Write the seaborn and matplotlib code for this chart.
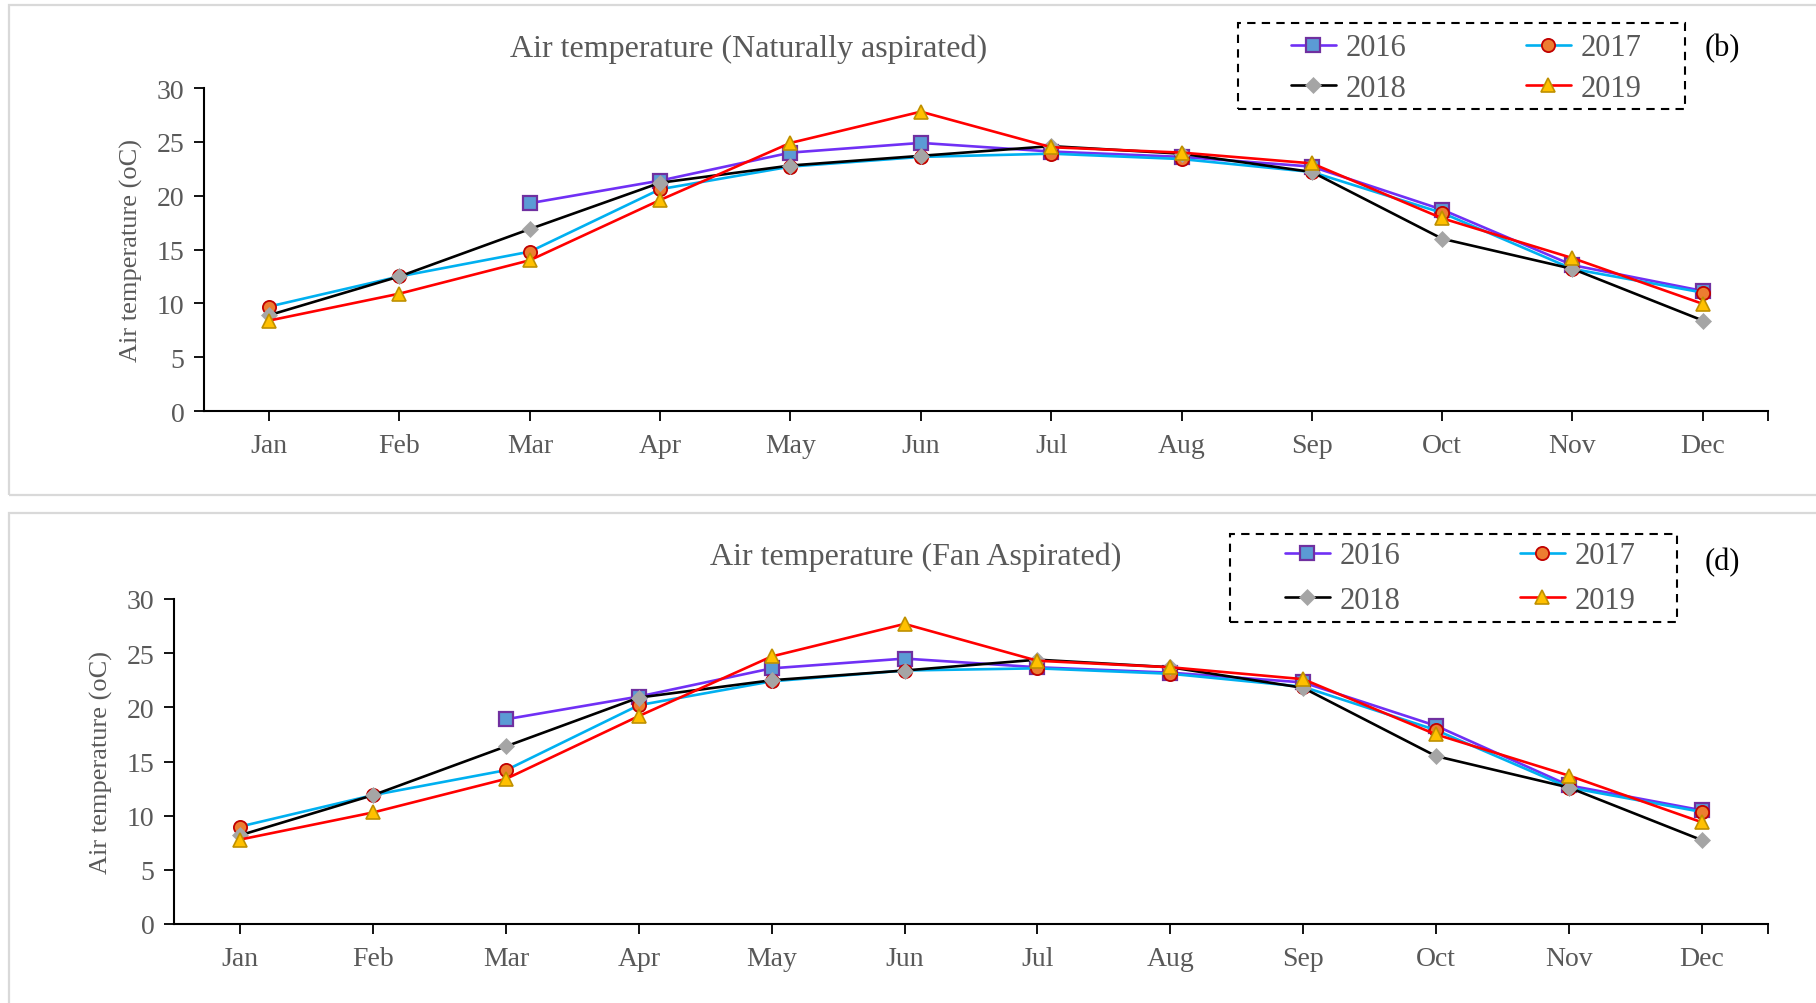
import numpy as np
import pandas as pd
import matplotlib
matplotlib.use("Agg")
import matplotlib.pyplot as plt
from matplotlib.patches import Rectangle
from matplotlib.lines import Line2D
import seaborn as sns

nan = np.nan

months = ["Jan", "Feb", "Mar", "Apr", "May", "Jun", "Jul", "Aug", "Sep", "Oct", "Nov", "Dec"]
years = ["2016", "2017", "2018", "2019"]

# Naturally aspirated air temperature (oC)
nat_2016 = [nan, nan, 19.3, 21.4, 24.0, 24.9, 24.1, 23.6, 22.7, 18.7, 13.55, 11.15]
nat_2017 = [9.7, 12.5, 14.8, 20.6, 22.7, 23.6, 23.9, 23.4, 22.2, 18.4, 13.2, 11.0]
nat_2018 = [8.9, 12.5, 16.9, 21.2, 22.8, 23.7, 24.6, 23.9, 22.2, 16.0, 13.2, 8.4]
nat_2019 = [8.4, 10.9, 14.0, 19.6, 24.9, 27.8, 24.5, 24.0, 23.0, 17.9, 14.2, 9.95]

# Fan aspirated air temperature (oC)
fan_2016 = [nan, nan, 18.9, 21.0, 23.6, 24.5, 23.7, 23.2, 22.3, 18.3, 12.8, 10.5]
fan_2017 = [9.0, 11.9, 14.2, 20.2, 22.4, 23.4, 23.6, 23.1, 21.9, 17.9, 12.6, 10.35]
fan_2018 = [8.2, 11.9, 16.4, 20.9, 22.5, 23.4, 24.4, 23.7, 21.8, 15.5, 12.6, 7.75]
fan_2019 = [7.8, 10.3, 13.4, 19.2, 24.7, 27.7, 24.3, 23.7, 22.6, 17.5, 13.7, 9.4]

sns.set_style("ticks")
plt.rcParams["font.family"] = ["Liberation Serif", "DejaVu Serif"]

TXT = "#595959"
TICK_FS = 20
LABEL_FS = 19
TITLE_FS = 23
LEG_FS = 22

styles = {
    "2016": dict(color="#7030F5", marker="s", markersize=9.5, markerfacecolor="#5B9BD5",
                 markeredgecolor="#7030A0", markeredgewidth=1.6, linewidth=1.9),
    "2017": dict(color="#00B0F0", marker="o", markersize=9.5, markerfacecolor="#ED7D31",
                 markeredgecolor="#C00000", markeredgewidth=1.3, linewidth=1.9),
    "2018": dict(color="black", marker="D", markersize=8, markerfacecolor="#A5A5A5",
                 markeredgecolor="#A5A5A5", markeredgewidth=0.5, linewidth=1.9),
    "2019": dict(color="#FF0000", marker="^", markersize=10, markerfacecolor="#FFC000",
                 markeredgecolor="#BF9000", markeredgewidth=1.2, linewidth=1.9),
}

W, H = 1816, 1004
fig = plt.figure(figsize=(W / 100, H / 100), dpi=100)


def fx(px):
    return px / W


def fy(py):
    return 1 - py / H


# panel frames
for (top, bot) in [(6, 496), (514, 1010)]:
    fig.patches.append(Rectangle((fx(9), fy(bot)), fx(1830 - 9), (bot - top) / H,
                                 transform=fig.transFigure, fill=False,
                                 edgecolor="#D9D9D9", linewidth=1.6, zorder=0))


def draw_panel(ax, series):
    x = np.arange(len(months))
    for yr, vals in zip(years, series):
        df = pd.DataFrame({"month": x, "temp": vals}).dropna()
        sns.lineplot(data=df, x="month", y="temp", ax=ax, errorbar=None,
                     sort=False, legend=False, **styles[yr])
    ax.set_xlim(-0.5, 11.5)
    ax.set_ylim(0, 30)
    ax.set_yticks(range(0, 31, 5))
    ax.set_xticks(x)
    ax.set_xticklabels(months)
    ax.set_xticks([11.5], minor=True)
    ax.tick_params(axis="x", which="minor", length=7, width=1.3, color="black")
    ax.set_xlabel("")
    ax.set_ylabel("Air temperature (oC)", fontsize=LABEL_FS, color=TXT, labelpad=10)
    for s in ["top", "right"]:
        ax.spines[s].set_visible(False)
    for s in ["left", "bottom"]:
        ax.spines[s].set_color("black")
        ax.spines[s].set_linewidth(1.5)
    ax.tick_params(axis="both", which="major", direction="out", length=7, width=1.3,
                   color="black", labelsize=TICK_FS, labelcolor=TXT)
    ax.tick_params(axis="x", pad=9)
    ax.tick_params(axis="y", pad=7)
    ax.set_facecolor("none")


def add_legend(cx, cy, box, spacing):
    order = ["2016", "2018", "2017", "2019"]
    handles = [Line2D([], [], **styles[y]) for y in order]
    leg = fig.legend(handles, order, ncol=2, loc="center", bbox_to_anchor=(fx(cx), fy(cy)),
                     bbox_transform=fig.transFigure, frameon=False, fontsize=LEG_FS,
                     handlelength=1.5, handletextpad=0.3, columnspacing=3.9,
                     labelspacing=spacing)
    for t in leg.get_texts():
        t.set_color(TXT)
    x0, y0, x1, y1 = box
    fig.patches.append(Rectangle((fx(x0), fy(y1)), (x1 - x0) / W, (y1 - y0) / H,
                                 transform=fig.transFigure, fill=False, edgecolor="black",
                                 linewidth=1.5, linestyle=(0, (4, 3))))


# top panel: naturally aspirated
ax1 = fig.add_axes([fx(204), fy(412), (1768 - 204) / W, (412 - 89) / H])
draw_panel(ax1, [nat_2016, nat_2017, nat_2018, nat_2019])
fig.text(fx(749), fy(49), "Air temperature (Naturally aspirated)", ha="center", va="center",
         fontsize=TITLE_FS, color=TXT)
fig.text(fx(1722), fy(49), "(b)", ha="center", va="center", fontsize=LEG_FS, color="black")
add_legend(1466, 69, (1238, 24, 1685, 110), 0.38)

# bottom panel: fan aspirated
ax2 = fig.add_axes([fx(174), fy(925), (1768 - 174) / W, (925 - 600) / H])
draw_panel(ax2, [fan_2016, fan_2017, fan_2018, fan_2019])
fig.text(fx(916), fy(557), "Air temperature (Fan Aspirated)", ha="center", va="center",
         fontsize=TITLE_FS, color=TXT)
fig.text(fx(1722), fy(563), "(d)", ha="center", va="center", fontsize=LEG_FS, color="black")
add_legend(1460, 579, (1230, 535, 1677, 623), 0.5)

fig.savefig("out.png", dpi=100)
